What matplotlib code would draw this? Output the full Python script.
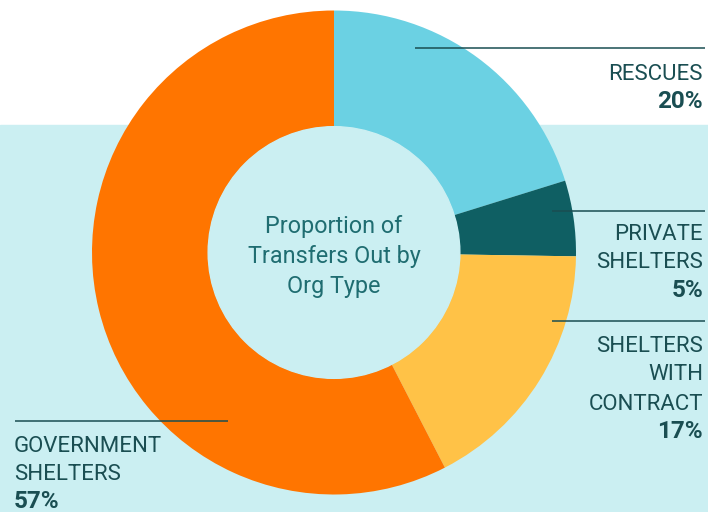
import matplotlib.pyplot as plt
from matplotlib.patches import Circle, Rectangle

# shares of transfers out, clockwise from the top
labels = ["RESCUES", "PRIVATE\nSHELTERS", "SHELTERS\nWITH\nCONTRACT", "GOVERNMENT\nSHELTERS"]
shares = [20, 5, 17, 57]
colors = ["#6BD1E3", "#0F5F63", "#FFC247", "#FF7500"]
title = "Proportion of\nTransfers Out by\nOrg Type"

W, H = 708, 512
band = "#CBEFF2"
ink = "#1A4E52"

plt.rcParams["font.family"] = ["Roboto", "DejaVu Sans"]

fig = plt.figure(figsize=(W / 100, H / 100), dpi=100)
ax = fig.add_axes([0, 0, 1, 1])

# light band behind the lower part of the chart
ax.add_patch(Rectangle((0, 0), W, H - 125, color=band, zorder=0))

cx, cy, r = 334, H - 252.5, 242
ax.pie(shares, colors=colors, startangle=90, counterclock=False,
       center=(cx, cy), radius=r, frame=True,
       wedgeprops=dict(width=r * 0.48, linewidth=0))
ax.add_patch(Circle((cx, cy), r * 0.52, color=band, zorder=3))
ax.set_xlim(0, W)
ax.set_ylim(0, H)
ax.set_aspect("equal")
ax.axis("off")

for i, line in enumerate(title.split("\n")):
    ax.text(cx, H - 232.5 - 30 * i, line, ha="center", va="baseline",
            fontsize=16.8, color="#1F6D71", zorder=4)


def label(x0, x1, y_line, x_text, y_first, step, text, pct, ha):
    ax.plot([x0, x1], [H - y_line, H - y_line], color=ink, lw=1.1,
            solid_capstyle="butt", zorder=4)
    lines = text.split("\n")
    for i, line in enumerate(lines):
        ax.text(x_text, H - y_first - step * i, line, ha=ha, va="baseline",
                fontsize=16, color=ink, zorder=4)
    ax.text(x_text, H - y_first - step * len(lines), f"{pct}%", ha=ha,
            va="baseline", fontsize=17.5, fontweight="bold", color=ink, zorder=4)


label(415, 705, 48, 703, 80, 28, labels[0], shares[0], "right")
label(552, 705, 210.5, 703, 240, 28.5, labels[1], shares[1], "right")
label(552, 705, 320.5, 703, 351.5, 29, labels[2], shares[2], "right")
label(15, 228, 421, 14, 451.5, 28.5, labels[3], shares[3], "left")

fig.savefig("out.png", dpi=100)
